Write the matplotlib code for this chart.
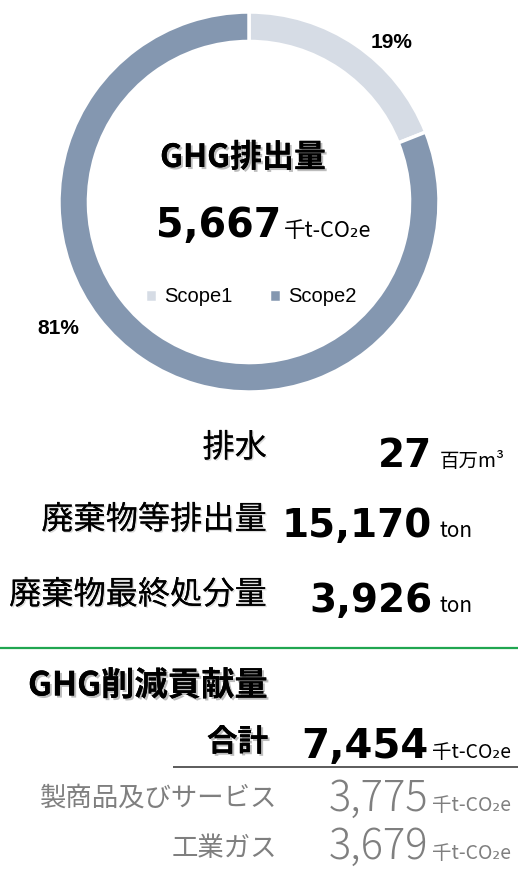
import matplotlib

matplotlib.use("Agg")
import matplotlib.patheffects as pe
from matplotlib import pyplot as plt

# --- data -------------------------------------------------------------
scope_labels = ["Scope1", "Scope2"]
scope_share = [19, 81]
ghg_title = "GHG排出量"
ghg_total = 5667
ghg_unit = "千t-CO₂e"

env_labels = ["排水", "廃棄物等排出量", "廃棄物最終処分量"]
env_values = [27, 15170, 3926]
env_units = ["百万m³", "ton", "ton"]

contrib_title = "GHG削減貢献量"
contrib_total_label = "合計"
contrib_total = 7454
contrib_labels = ["製商品及びサービス", "工業ガス"]
contrib_values = [3775, 3679]
contrib_unit = "千t-CO₂e"

# --- style ------------------------------------------------------------
W, H = 518, 869
scope_colors = ["#d6dce5", "#8497b0"]
GRAY = "#7f7f7f"
JP = ["Noto Sans CJK JP", "DejaVu Sans"]
NUM = ["DejaVu Sans"]
LAT = ["Liberation Sans", "DejaVu Sans"]
shadow = [pe.withSimplePatchShadow(offset=(1.5, -1.5), shadow_rgbFace="#888888", alpha=0.55),
          pe.Normal()]
soft_shadow = [pe.withSimplePatchShadow(offset=(1, -1), shadow_rgbFace="#bbbbbb", alpha=0.5),
               pe.Normal()]

fig = plt.figure(figsize=(W / 100, H / 100), dpi=100)

# donut
cx, cy, r = 249, 202, 190
ax_d = fig.add_axes([(cx - r) / W, (H - cy - r) / H, 2 * r / W, 2 * r / H])
wedges, _ = ax_d.pie(
    scope_share,
    colors=scope_colors,
    startangle=90,
    counterclock=False,
    radius=1,
    wedgeprops=dict(width=0.155, edgecolor="white", linewidth=2.5),
)
for w in wedges:
    w.set_clip_on(False)
ax_d.set_xlim(-1, 1)
ax_d.set_ylim(-1, 1)
ax_d.set_aspect("equal")
ax_d.axis("off")

# canvas in pixel units for all text
ax = fig.add_axes([0, 0, 1, 1], zorder=2)
ax.set_xlim(0, W)
ax.set_ylim(H, 0)
ax.patch.set_alpha(0)
ax.axis("off")

ax.text(392, 42, f"{scope_share[0]}%", family=LAT, weight="bold", fontsize=15,
        ha="center", va="center")
ax.text(58, 328, f"{scope_share[1]}%", family=LAT, weight="bold", fontsize=15,
        ha="center", va="center")

ax.text(243, 158, ghg_title, family=JP, weight="bold", fontsize=23,
        ha="center", va="center", path_effects=shadow)
ax.text(281, 237, f"{ghg_total:,}", family=NUM, weight="bold", fontsize=28.5,
        ha="right", va="baseline")
ax.text(284, 237, ghg_unit, family=JP, fontsize=15.5, ha="left", va="baseline")

fig.legend(
    wedges, scope_labels,
    loc="center", bbox_to_anchor=(251 / W, 1 - 297 / H),
    ncol=2, frameon=False, prop=dict(family=LAT, size=14.5),
    handlelength=0.6, handleheight=0.6, handletextpad=0.35, columnspacing=1.8,
)

# environmental figures
label_y = [448, 520, 595]
base_y = [467, 537, 612]
for lab, val, unit, ly, by in zip(env_labels, env_values, env_units, label_y, base_y):
    ax.text(267, ly, lab, family=JP, fontsize=23.2, ha="right", va="center",
            path_effects=soft_shadow)
    ax.text(432, by, f"{val:,}", family=NUM, weight="bold", fontsize=28,
            ha="right", va="baseline")
    ax.text(440, by, unit, family=JP, fontsize=14 if unit != "ton" else 15,
            ha="left", va="baseline")

ax.plot([0, W], [648, 648], color="#20a650", lw=1.6, solid_capstyle="butt")

# contribution section
ax.text(28, 686, contrib_title, family=JP, weight="bold", fontsize=24,
        ha="left", va="center", path_effects=shadow)
ax.text(268, 742, contrib_total_label, family=JP, weight="bold", fontsize=22,
        ha="right", va="center", path_effects=shadow)
ax.text(428, 758, f"{contrib_total:,}", family=NUM, weight="bold", fontsize=29,
        ha="right", va="baseline")
ax.text(432, 758, contrib_unit, family=JP, fontsize=14, ha="left", va="baseline")
ax.plot([173, W], [767, 767], color="#404040", lw=1.2, solid_capstyle="butt")

for lab, val, ly, by in zip(contrib_labels, contrib_values, [798, 849], [811, 859]):
    ax.text(277, ly, lab, family=JP, fontsize=19, color=GRAY, ha="right", va="center")
    ax.text(428, by, f"{val:,}", family=JP, weight="light", fontsize=30, color=GRAY,
            ha="right", va="baseline")
    ax.text(432, by, contrib_unit, family=JP, fontsize=14, color=GRAY,
            ha="left", va="baseline")

fig.savefig("out.png", dpi=100)
